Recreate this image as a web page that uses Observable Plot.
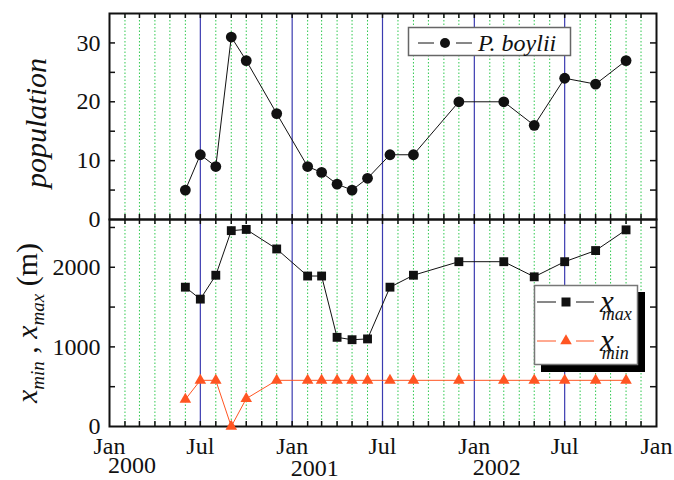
<!DOCTYPE html>
<html>
<head>
<meta charset="utf-8">
<script src="https://cdn.jsdelivr.net/npm/d3@7"></script>
<script src="https://cdn.jsdelivr.net/npm/@observablehq/plot@0.6"></script>
<style>
  html, body { margin: 0; padding: 0; background: #fff; }
  #chart { position: relative; width: 674px; height: 480px; overflow: hidden;
           font-family: "Liberation Serif", "Times New Roman", Times, "DejaVu Serif", serif; }
  #chart > svg { position: absolute; left: 0; }
  #chart svg, #chart svg text { font-family: "Liberation Serif", "Times New Roman", Times, "DejaVu Serif", serif; }
</style>
</head>
<body>
<div id="chart"></div>
<script>
// Trapping sessions
const sampleDates = [
  "2000-06-01", "2000-07-01", "2000-08-01", "2000-09-01", "2000-10-01", "2000-12-01",
  "2001-02-01", "2001-03-01", "2001-04-01", "2001-05-01", "2001-06-01", "2001-07-16",
  "2001-09-01", "2001-12-01", "2002-03-01", "2002-05-01", "2002-07-01", "2002-09-01",
  "2002-11-01"
];
// P. boylii counts
const population = [5, 11, 9, 31, 27, 18, 9, 8, 6, 5, 7, 11, 11, 20, 20, 16, 24, 23, 27];
// Largest and smallest positions along the transect (m)
const xMax = [1750, 1600, 1900, 2460, 2475, 2230, 1890, 1890, 1120, 1090, 1100, 1750, 1900, 2070, 2070, 1880, 2070, 2210, 2470];
const xMin = [340, 580, 580, 0, 350, 580, 580, 580, 580, 580, 580, 580, 580, 580, 580, 580, 580, 580, 580];

const popTicks = [0, 10, 20, 30];
const popMinorTicks = [5, 10, 15, 20, 25, 30];
const rangeTicks = [0, 1000, 2000];
const rangeMinorTicks = [500, 1000, 1500, 2000, 2500];
const yearLabels = ["2000", "2001", "2002"];

const rows = sampleDates.map((d, i) => ({
  date: new Date(d), population: population[i], xMax: xMax[i], xMin: xMin[i]
}));

// Layout
const W = 674, ML = 109, MR = 18;
const topFrameTop = 13, midLine = 219, bottomLine = 426;
const topH = midLine - topFrameTop;      // inner height of upper panel
const botH = bottomLine - midLine;       // inner height of lower panel
const innerW = W - ML - MR;
const tickLen = 5;
const font = '"Liberation Serif", "Times New Roman", Times, "DejaVu Serif", serif';
const fs = 24;
const red = "#ff5522";

const xDomain = [new Date(Date.UTC(2000, 0, 1)), new Date(Date.UTC(2003, 0, 1))];
const months = d3.utcMonth.range(xDomain[0], new Date(Date.UTC(2003, 0, 2)));
const halfYears = months.filter(d => d.getUTCMonth() % 6 === 0);
const innerHalfYears = halfYears.slice(1, -1);
const otherMonths = months.filter(d => d.getUTCMonth() % 6 !== 0);
const innerMonths = months.slice(1, -1);

// Monthly grid: dotted green, solid blue every six months
const grid = () => [
  Plot.ruleX(otherMonths, {stroke: "#2fc84f", strokeWidth: 1, strokeDasharray: "1.5 2"}),
  Plot.ruleX(innerHalfYears, {stroke: "#3b3bb0", strokeWidth: 1.2})
];

// Inward tick marks on all four sides of a panel
const frameTicks = (h, minor) => [
  Plot.tickX(innerMonths, {x: d => d, insetTop: h - tickLen, stroke: "#111", strokeWidth: 1.5}),
  Plot.tickX(innerMonths, {x: d => d, insetBottom: h - tickLen, stroke: "#111", strokeWidth: 1.5}),
  Plot.tickY(minor, {y: d => d, insetRight: innerW - 6, stroke: "#111", strokeWidth: 1.5}),
  Plot.tickY(minor, {y: d => d, insetLeft: innerW - 6, stroke: "#111", strokeWidth: 1.5}),
  Plot.frame({stroke: "#111", strokeWidth: 2})
];

const chart = document.getElementById("chart");

const topPlot = Plot.plot({
  width: W, height: midLine + 1,
  marginLeft: ML, marginRight: MR, marginTop: topFrameTop, marginBottom: 1,
  style: {fontFamily: font, background: "transparent", overflow: "visible", color: "#111"},
  x: {type: "utc", domain: xDomain, axis: null},
  y: {domain: [0, 35]},
  marks: [
    ...grid(),
    ...frameTicks(topH, popMinorTicks),
    Plot.axisY(popTicks, {tickSize: 0, tickPadding: 9, fontSize: fs, label: null, tickFormat: d3.format("d")}),
    Plot.line(rows, {x: "date", y: "population", stroke: "#111", strokeWidth: 1}),
    Plot.dot(rows, {x: "date", y: "population", r: 5.4, fill: "#111", stroke: null})
  ]
});
topPlot.style.top = "0px";

const bottomPlot = Plot.plot({
  width: W, height: 480 - midLine,
  marginLeft: ML, marginRight: MR, marginTop: 0, marginBottom: 480 - bottomLine,
  style: {fontFamily: font, background: "transparent", overflow: "visible", color: "#111"},
  x: {type: "utc", domain: xDomain},
  y: {domain: [0, 2600]},
  marks: [
    ...grid(),
    ...frameTicks(botH, rangeMinorTicks),
    Plot.axisY(rangeTicks, {tickSize: 0, tickPadding: 9, fontSize: fs, label: null, tickFormat: d3.format("d")}),
    Plot.axisX(halfYears, {tickSize: 0, tickPadding: 10, fontSize: fs, label: null,
      tickFormat: d => d.getUTCMonth() === 0 ? "Jan" : "Jul"}),
    ...yearLabels.map((yr, i) => Plot.text([yr], {
      x: () => new Date(Date.UTC(+yr, 1, 15)), text: d => d, frameAnchor: "bottom",
      dy: [46, 49.5, 48][i], fontSize: fs, fill: "#111"
    })),
    Plot.line(rows, {x: "date", y: "xMax", stroke: "#111", strokeWidth: 1}),
    Plot.line(rows, {x: "date", y: "xMin", stroke: red, strokeWidth: 1}),
    Plot.dot(rows, {x: "date", y: "xMax", symbol: "square", r: 5, fill: "#111", stroke: null}),
    Plot.dot(rows, {x: "date", y: "xMin", symbol: "triangle", r: 4.3, fill: red, stroke: null})
  ]
});
bottomPlot.style.top = midLine + "px";

chart.appendChild(topPlot);
chart.appendChild(bottomPlot);

// Axis titles and legends
const ov = d3.select(chart).append("svg")
  .attr("width", W).attr("height", 480)
  .style("top", "0px").style("pointer-events", "none")
  .attr("fill", "#111");

ov.append("text")
  .attr("transform", "translate(46,123) rotate(-90)")
  .attr("text-anchor", "middle").attr("font-size", 30).attr("font-style", "italic")
  .text("population");

const yt = ov.append("text")
  .attr("transform", "translate(37,323) rotate(-90)")
  .attr("text-anchor", "middle").attr("font-size", 30);
yt.append("tspan").attr("font-style", "italic").text("x");
yt.append("tspan").attr("font-style", "italic").attr("font-size", 19).attr("dy", 7).text("min");
yt.append("tspan").attr("dy", -7).text(" , ");
yt.append("tspan").attr("font-style", "italic").text("x");
yt.append("tspan").attr("font-style", "italic").attr("font-size", 19).attr("dy", 7).text("max");
yt.append("tspan").attr("dy", -7).text(" (m)");

// Legend: population
const l1 = ov.append("g");
l1.append("rect").attr("x", 408.5).attr("y", 27.5).attr("width", 162).attr("height", 28)
  .attr("fill", "#fff").attr("stroke", "#666").attr("stroke-width", 1.5);
l1.append("line").attr("x1", 418).attr("x2", 434).attr("y1", 43).attr("y2", 43).attr("stroke", "#111");
l1.append("line").attr("x1", 456).attr("x2", 472).attr("y1", 43).attr("y2", 43).attr("stroke", "#111");
l1.append("circle").attr("cx", 445).attr("cy", 43).attr("r", 5).attr("fill", "#111");
l1.append("text").attr("x", 478).attr("y", 51).attr("font-size", 24).attr("font-style", "italic").text("P. boylii");

// Legend: range limits (with drop shadow)
const l2 = ov.append("g");
l2.append("rect").attr("x", 541).attr("y", 292).attr("width", 104).attr("height", 80).attr("fill", "#000");
l2.append("rect").attr("x", 534.5).attr("y", 285.5).attr("width", 103).attr("height", 79)
  .attr("fill", "#fff").attr("stroke", "#777").attr("stroke-width", 1.5);
const entry = (cy, color, symbol, sub) => {
  l2.append("line").attr("x1", 537).attr("x2", 556).attr("y1", cy).attr("y2", cy).attr("stroke", color);
  l2.append("line").attr("x1", 576).attr("x2", 594).attr("y1", cy).attr("y2", cy).attr("stroke", color);
  l2.append("path").attr("transform", `translate(566,${cy})`)
    .attr("d", d3.symbol(symbol, symbol === d3.symbolSquare ? 81 : 58)()).attr("fill", color);
  // variable name with its subscript tucked under it
  const t = l2.append("text").attr("x", 600).attr("y", cy + 10).attr("font-style", "italic");
  t.append("tspan").attr("font-size", 31).text("x");
  t.append("tspan").attr("font-size", 18).attr("dx", -12).attr("dy", 8).text(sub);
};
entry(302, "#111", d3.symbolSquare, "max");
entry(341, red, d3.symbolTriangle, "min");
</script>
</body>
</html>
